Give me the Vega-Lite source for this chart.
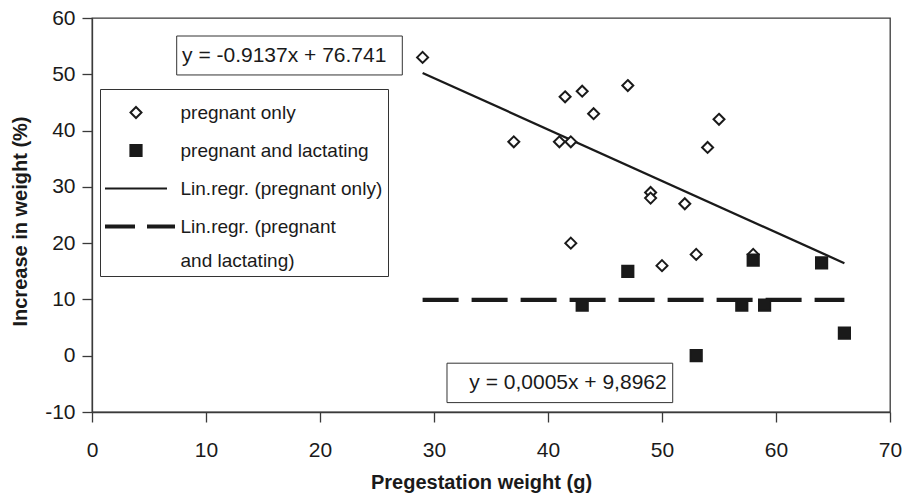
{
  "$schema": "https://vega.github.io/schema/vega-lite/v6.json",
  "width": 798,
  "height": 394,
  "autosize": {"type": "none"},
  "padding": {"left": 92, "top": 18, "right": 13, "bottom": 82},
  "background": "white",
  "config": {
    "font": "Liberation Sans",
    "style": {"guide-label": {"lineHeight": 34}},
    "view": {"stroke": "#3a3a3a", "strokeWidth": 1.3},
    "axis": {
      "grid": false,
      "domainColor": "#3a3a3a",
      "tickColor": "#3a3a3a",
      "domainWidth": 1.3,
      "tickWidth": 1.3,
      "tickSize": 10,
      "labelFontSize": 21,
      "labelColor": "#1a1a1a",
      "labelFlush": false,
      "labelOverlap": false,
      "titleFontSize": 20,
      "titleFontWeight": "bold",
      "titleColor": "#1a1a1a"
    },
    "legend": {
      "orient": "none",
      "legendX": 8,
      "legendY": 71,
      "symbolSize": 1225,
      "symbolOffset": 12.5,
      "symbolStrokeColor": "#1a1a1a",
      "symbolStrokeWidth": 2,
      "labelFontSize": 19,
      "labelColor": "#1a1a1a",
      "labelLimit": 0,
      "labelOffset": 26,
      "rowPadding": 9,
      "padding": 5,
      "strokeColor": "#333",
      "fillColor": "white"
    }
  },
  "datasets": {
    "obs": [
      {"w": 29, "inc": 53, "series": "pregnant only"},
      {"w": 37, "inc": 38, "series": "pregnant only"},
      {"w": 41, "inc": 38, "series": "pregnant only"},
      {"w": 42, "inc": 38, "series": "pregnant only"},
      {"w": 41.5, "inc": 46, "series": "pregnant only"},
      {"w": 43, "inc": 47, "series": "pregnant only"},
      {"w": 44, "inc": 43, "series": "pregnant only"},
      {"w": 47, "inc": 48, "series": "pregnant only"},
      {"w": 55, "inc": 42, "series": "pregnant only"},
      {"w": 54, "inc": 37, "series": "pregnant only"},
      {"w": 49, "inc": 29, "series": "pregnant only"},
      {"w": 49, "inc": 28, "series": "pregnant only"},
      {"w": 52, "inc": 27, "series": "pregnant only"},
      {"w": 42, "inc": 20, "series": "pregnant only"},
      {"w": 50, "inc": 16, "series": "pregnant only"},
      {"w": 53, "inc": 18, "series": "pregnant only"},
      {"w": 58, "inc": 18, "series": "pregnant only"},
      {"w": 47, "inc": 15, "series": "pregnant and lactating"},
      {"w": 43, "inc": 9, "series": "pregnant and lactating"},
      {"w": 57, "inc": 9, "series": "pregnant and lactating"},
      {"w": 59, "inc": 9, "series": "pregnant and lactating"},
      {"w": 58, "inc": 17, "series": "pregnant and lactating"},
      {"w": 64, "inc": 16.5, "series": "pregnant and lactating"},
      {"w": 66, "inc": 4, "series": "pregnant and lactating"},
      {"w": 53, "inc": 0, "series": "pregnant and lactating"}
    ],
    "fitPO": [
      {"w": 29, "inc": 50.24},
      {"w": 66, "inc": 16.44}
    ],
    "fitPL": [
      {"w": 29, "inc": 9.91},
      {"w": 66, "inc": 9.93}
    ],
    "eq1": [{"eq": "y = -0.9137x + 76.741"}],
    "eq2": [{"eq": "y = 0,0005x + 9,8962"}]
  },
  "encoding": {
    "x": {
      "type": "quantitative",
      "scale": {"domain": [0, 70], "nice": false},
      "axis": {
        "values": [0, 10, 20, 30, 40, 50, 60, 70],
        "labelPadding": 17,
        "title": "Pregestation weight (g)",
        "titleX": 389,
        "titleY": 76,
        "titleAlign": "center",
        "titleBaseline": "alphabetic"
      }
    },
    "y": {
      "type": "quantitative",
      "scale": {"domain": [-10, 60], "nice": false},
      "axis": {
        "values": [-10, 0, 10, 20, 30, 40, 50, 60],
        "labelPadding": 7,
        "labelExpr": "datum.value < 0 ? '-' + abs(datum.value) : '' + datum.value",
        "title": "Increase in weight (%)",
        "titleAngle": -90,
        "titleX": -66,
        "titleY": 203,
        "titleAlign": "center",
        "titleBaseline": "alphabetic"
      }
    }
  },
  "layer": [
    {
      "data": {"name": "eq1"},
      "mark": {"type": "rect", "fill": "white", "stroke": "#333", "strokeWidth": 1},
      "encoding": {
        "x": {"datum": 7.43, "type": "quantitative"},
        "x2": {"datum": 27.22},
        "y": {"datum": 56.8, "type": "quantitative"},
        "y2": {"datum": 49.88}
      }
    },
    {
      "data": {"name": "eq1"},
      "mark": {"type": "text", "align": "left", "baseline": "middle", "fontSize": 21, "color": "#1a1a1a"},
      "encoding": {
        "x": {"datum": 7.9, "type": "quantitative"},
        "y": {"datum": 53.3, "type": "quantitative"},
        "text": {"field": "eq"}
      }
    },
    {
      "data": {"name": "eq2"},
      "mark": {"type": "rect", "fill": "white", "stroke": "#333", "strokeWidth": 1},
      "encoding": {
        "x": {"datum": 31.14, "type": "quantitative"},
        "x2": {"datum": 50.94},
        "y": {"datum": -1.33, "type": "quantitative"},
        "y2": {"datum": -8.33}
      }
    },
    {
      "data": {"name": "eq2"},
      "mark": {"type": "text", "align": "right", "baseline": "middle", "fontSize": 21, "color": "#1a1a1a"},
      "encoding": {
        "x": {"datum": 50.41, "type": "quantitative"},
        "y": {"datum": -4.9, "type": "quantitative"},
        "text": {"field": "eq"}
      }
    },
    {
      "data": {"name": "fitPO"},
      "mark": {"type": "line", "color": "#1a1a1a", "strokeWidth": 2.3},
      "encoding": {"x": {"field": "w"}, "y": {"field": "inc"}}
    },
    {
      "data": {"name": "fitPL"},
      "mark": {"type": "line", "color": "#1a1a1a", "strokeWidth": 4.3, "strokeDash": [36, 13]},
      "encoding": {"x": {"field": "w"}, "y": {"field": "inc"}}
    },
    {
      "data": {"name": "obs"},
      "mark": {"type": "point", "filled": true, "strokeWidth": 2, "size": 1225, "opacity": 1},
      "encoding": {
        "x": {"field": "w"},
        "y": {"field": "inc"},
        "shape": {
          "field": "series",
          "type": "nominal",
          "scale": {
            "domain": ["pregnant only", "pregnant and lactating", "Lin.regr. (pregnant only)", "Lin.regr. (pregnant and lactating)"],
            "range": [
              "M0,-0.314L0.314,0L0,0.314L-0.314,0Z",
              "M-0.32,-0.32H0.32V0.32H-0.32Z",
              "M-1.771,0H1.771",
              "M-1.714,-0.057H-0.114V0.057H-1.714ZM0.686,-0.057H2.171V0.057H0.686Z"
            ]
          },
          "legend": {
            "title": null,
            "labelExpr": "datum.label == 'Lin.regr. (pregnant and lactating)' ? ['Lin.regr. (pregnant', 'and lactating)'] : datum.label"
          }
        },
        "fill": {
          "field": "series",
          "type": "nominal",
          "scale": {
            "domain": ["pregnant only", "pregnant and lactating", "Lin.regr. (pregnant only)", "Lin.regr. (pregnant and lactating)"],
            "range": ["white", "#1a1a1a", "transparent", "#1a1a1a"]
          },
          "legend": {
            "title": null,
            "labelExpr": "datum.label == 'Lin.regr. (pregnant and lactating)' ? ['Lin.regr. (pregnant', 'and lactating)'] : datum.label"
          }
        },
        "stroke": {
          "field": "series",
          "type": "nominal",
          "scale": {
            "domain": ["pregnant only", "pregnant and lactating", "Lin.regr. (pregnant only)", "Lin.regr. (pregnant and lactating)"],
            "range": ["#1a1a1a", "#1a1a1a", "#1a1a1a", "#1a1a1a"]
          },
          "legend": {
            "title": null,
            "labelExpr": "datum.label == 'Lin.regr. (pregnant and lactating)' ? ['Lin.regr. (pregnant', 'and lactating)'] : datum.label"
          }
        }
      }
    }
  ]
}
